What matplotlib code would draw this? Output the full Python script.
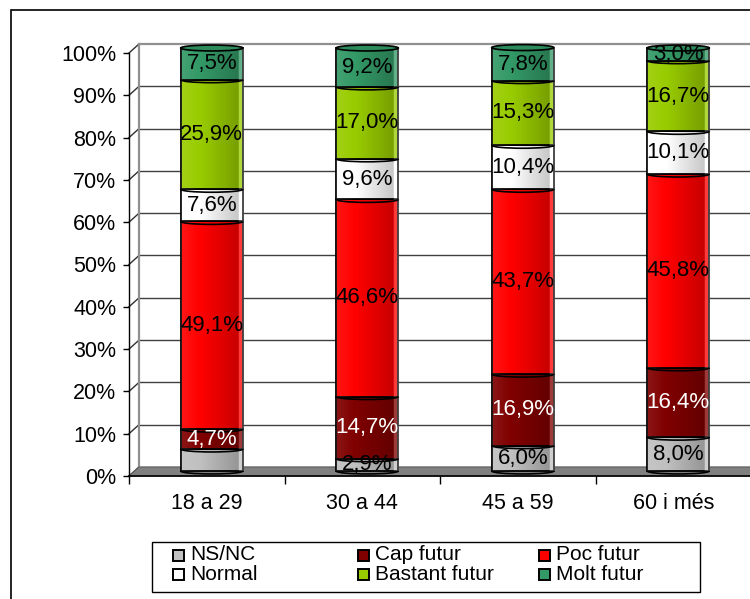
import numpy as np
import matplotlib
matplotlib.use("Agg")
import matplotlib.pyplot as plt
from matplotlib.transforms import ScaledTranslation, IdentityTransform
from matplotlib.patches import Polygon, Rectangle, Arc, Ellipse

plt.rcParams['font.family'] = ['Liberation Sans', 'DejaVu Sans']

categories = ['18 a 29', '30 a 44', '45 a 59', '60 i més']
series = ['NS/NC', 'Cap futur', 'Poc futur', 'Normal', 'Bastant futur', 'Molt futur']
ns_nc = [5.2, 2.9, 6.0, 8.0]
cap_futur = [4.7, 14.7, 16.9, 16.4]
poc_futur = [49.1, 46.6, 43.7, 45.8]
normal = [7.6, 9.6, 10.4, 10.1]
bastant_futur = [25.9, 17.0, 15.3, 16.7]
molt_futur = [7.5, 9.2, 7.8, 3.0]
values = [ns_nc, cap_futur, poc_futur, normal, bastant_futur, molt_futur]
colors = ['#c0c0c0', '#800000', '#ff0000', '#ffffff', '#99cc00', '#339966']
text_colors = ['black', 'white', 'black', 'black', 'black', 'black']
hidden = [(0, 0)]  # (series, category) labels not shown

W, H = 750, 599
fig = plt.figure(figsize=(W / 100, H / 100), dpi=100)

# outer chart frame
fig.add_artist(Rectangle((11 / W, -0.1), 1.0, 1 - 10 / H + 0.1, transform=fig.transFigure,
                         fill=False, edgecolor='black', lw=1.2))

ax = fig.add_axes([129 / W, (H - 476) / H, 622 / W, 423 / H])
ax.set_xlim(0, 4)
ax.set_ylim(0, 100)
ax.patch.set_visible(False)
for s in ['top', 'right', 'bottom']:
    ax.spines[s].set_visible(False)
ax.spines['left'].set_linewidth(1.0)

def shift(dx, dy):
    return ax.transData + ScaledTranslation(dx / 100, dy / 100, fig.dpi_scale_trans)

back = shift(10, 9)
mid = shift(5, 5)

# floor
pts_front = ax.transData.transform([(0, 0), (4.1, 0)])
pts_back = back.transform([(4.1, 0), (0, 0)])
ax.add_patch(Polygon(np.vstack([pts_front, pts_back]), closed=True, transform=IdentityTransform(),
                     facecolor='#808080', edgecolor='#606060', lw=0.8, zorder=1, clip_on=False))

# back wall grid
yt = np.arange(0, 101, 10)
for y in yt:
    ax.plot([0, 4.2], [y, y], transform=back, color='#404040' if y < 100 else '#909090',
            lw=1.0 if y < 100 else 1.6, clip_on=False, zorder=0.5)
    p0 = ax.transData.transform((0, y))
    p1 = back.transform((0, y))
    ax.plot([p0[0], p1[0]], [p0[1], p1[1]], transform=IdentityTransform(), color='#303030',
            lw=1.0, clip_on=False, zorder=0.6)
ax.plot([0, 0], [0, 100], transform=back, color='#909090', lw=1.6, clip_on=False, zorder=0.6)

# bars
x = np.arange(len(categories)) + 0.5
bw = 0.4
bottom = np.zeros(len(categories))
for i, (name, vals) in enumerate(zip(series, values)):
    bars = ax.bar(x, vals, bw, bottom=bottom, color=colors[i], edgecolor='black', lw=1.3,
                  transform=mid, zorder=3, label=name)
    for b in bars:
        b.set_clip_on(False)
    for j in range(len(categories)):
        if (i, j) in hidden:
            continue
        ax.text(x[j], bottom[j] + vals[j] / 2, f'{vals[j]:.1f}%'.replace('.', ','),
                transform=mid, ha='center', va='center', fontsize=16,
                color=text_colors[i], zorder=7)
    bottom = bottom + np.array(vals)

# cylinder shading
g = np.linspace(0, 1, 60)
alpha = np.where(g < 0.3, 0.09 * (1 - g / 0.3), 0.25 * (g - 0.3) / 0.7)
rgba = np.zeros((1, 60, 4))
rgba[..., 3] = alpha
rgba[0, g < 0.3, :3] = 1.0
rgba[0, g > 0.93, :3] = 1.0
for j in range(len(categories)):
    im = ax.imshow(rgba, extent=(x[j] - bw / 2, x[j] + bw / 2, 0, bottom[j]),
                   aspect='auto', transform=mid, zorder=4, interpolation='bilinear')
    im.set_clip_on(False)
    # top cap
    ax.add_patch(Ellipse((x[j], bottom[j]), bw, 1.4, transform=mid, facecolor='#2d8a5a',
                         edgecolor='black', lw=1.2, zorder=5, clip_on=False))
    # front arcs at segment boundaries
    b = 0
    for vals in values[:-1]:
        b += vals[j]
        ax.add_patch(Arc((x[j], b), bw, 1.4, theta1=180, theta2=360, transform=mid,
                         color='black', lw=1.2, zorder=5, clip_on=False))
    ax.add_patch(Arc((x[j], 0), bw, 1.4, theta1=180, theta2=360, transform=mid,
                     color='black', lw=1.2, zorder=5, clip_on=False))
ax.set_xlim(0, 4)
ax.set_ylim(0, 100)

ax.set_yticks(yt)
ax.set_yticklabels([f'{v}%' for v in yt], fontsize=15.5)
ax.tick_params(axis='y', length=4, width=1, pad=5)
ax.set_xticks(np.arange(5))
ax.set_xticklabels([])
ax.set_xticks(x, minor=True)
ax.set_xticklabels(categories, minor=True, fontsize=15.5)
ax.tick_params(axis='x', which='major', length=6, width=1)
ax.tick_params(axis='x', which='minor', length=0, pad=12)
ax.plot([0, 4], [0, 0], color='black', lw=1.2, clip_on=False, zorder=2)

# legend, laid out like the spreadsheet one (fixed column widths)
fig.add_artist(Rectangle((152 / W, (H - 592) / H), 548 / W, 50 / H, transform=fig.transFigure,
                         facecolor='white', edgecolor='black', lw=1.0))
col_x = [173, 358, 539]
row_y = [555, 574]
leg_order = [[0, 1, 2], [3, 4, 5]]
for r, row in enumerate(leg_order):
    for c, k in enumerate(row):
        fig.add_artist(Rectangle((col_x[c] / W, (H - row_y[r] - 6) / H), 11 / W, 11 / H,
                                 transform=fig.transFigure, facecolor=colors[k],
                                 edgecolor='black', lw=1.4))
        fig.text((col_x[c] + 17) / W, (H - row_y[r]) / H, series[k], fontsize=15,
                 va='center', ha='left')

fig.savefig('out.png', dpi=100)
